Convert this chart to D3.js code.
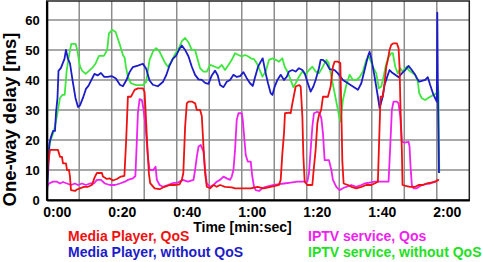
<!DOCTYPE html>
<html><head><meta charset="utf-8">
<script src="https://cdn.jsdelivr.net/npm/d3@7/dist/d3.min.js"></script>
<style>html,body{margin:0;padding:0;background:#fff;} svg{display:block;}</style>
</head><body>
<svg id="c" width="483" height="262"></svg>
<script>
const xTickValues = [0, 20, 40, 60, 80, 100, 120];
const xTickLabels = ["0:00", "0:20", "0:40", "1:00", "1:20", "1:40", "2:00"];
const yTickValues = [0, 10, 20, 30, 40, 50, 60];
const seriesNames = ["Media Player, QoS", "Media Player, without QoS", "IPTV service, Qos", "IPTV service, without QoS"];

// [time (s), delay (ms)]
const mediaPlayerQoS = [[0.09,7],[0.4,12],[1.01,16.7],[3.47,16.7],[4.09,14.4],[4.7,14.4],[5.01,12.2],[5.93,12.2],[6.24,10],[6.85,10],[7.16,7.8],[7.47,3.3],[8.69,3],[9.31,3.5],[10.23,3.9],[11.46,4.4],[12.69,4.4],[13.92,5],[14.84,7.8],[15.45,9],[16.99,9],[17.3,7.8],[18.53,7],[19.45,7.2],[20.37,6.5],[21.6,7],[22.83,7.8],[23.9,8],[24.45,20],[24.98,34.4],[25.9,34.4],[26.51,35.6],[27.04,36.7],[28.05,37.2],[29.59,37.2],[30.11,36],[30.41,30],[30.91,18.9],[31.43,8.9],[31.83,5.6],[33.18,3.9],[34.72,3.6],[36.25,4.4],[37.88,5],[39.32,5],[40.86,5.2],[41.57,6.7],[42.03,9],[42.58,24.4],[43.1,32.2],[43.63,32.8],[44.64,32.8],[45.65,32.2],[46.18,30],[47.19,30],[47.71,28],[48.23,17.8],[48.73,8.9],[49.25,4.4],[50.26,3.9],[51.31,5],[52.32,4.4],[53.33,5],[54.87,4.4],[56.93,4.2],[57.94,3.9],[59.48,3.9],[61.54,3.9],[62.77,3.9],[64.82,4.4],[66.76,3.9],[68.91,4.4],[69.92,4.6],[71.46,5],[71.98,6.7],[72.5,15.6],[73.0,22.2],[73.3,28.9],[74.53,29.1],[75.05,28.9],[75.58,32.2],[76.59,37.8],[77.6,38.3],[78.13,37.8],[78.65,27.8],[78.96,14.4],[79.36,6.1],[80.18,5],[81.72,5],[82.03,8.9],[82.73,16.7],[83.26,25.6],[83.75,28.3],[84.43,30],[84.98,34.4],[86.51,34.4],[87.34,37.8],[88.05,44.4],[88.57,46.1],[89.59,46.1],[90.32,45.6],[90.63,30],[90.94,13],[91.34,5.5],[92.66,5],[93.71,4.4],[95.24,3.9],[96.78,4.4],[98.31,5],[99.85,5],[100.86,5.5],[101.88,6.1],[102.18,16.7],[102.7,34.4],[103.41,34.4],[103.93,38.9],[104.46,44.4],[104.95,46.7],[105.47,50],[105.99,51.7],[106.7,52.2],[107.71,52.2],[108.24,50.6],[108.54,44.4],[108.85,30],[109.25,16.7],[109.46,5],[110.38,4.7],[111.83,4.4],[113.36,4.4],[114.38,5],[115.7,5],[116.93,5.5],[118.28,5.8],[119.51,6.1],[120.31,6.7],[120.68,6.5]];

const mediaPlayerNoQoS = [[0.09,2],[0.55,12],[0.86,19],[1.32,21],[1.94,23],[2.55,23],[2.86,29],[3.32,34],[3.63,43],[4.39,44],[4.92,45.5],[5.47,47],[5.93,50],[6.54,47],[7.16,45.5],[7.93,40],[8.85,34],[9.62,31],[10.23,31.5],[11.15,34],[12.07,37],[12.84,38],[13.76,40],[14.69,42],[15.67,41.5],[16.68,42.3],[17.7,41],[18.74,41],[19.97,41.3],[21.29,40.5],[22.52,38.4],[23.44,37.9],[24.45,39.8],[25.5,42.6],[26.51,44.3],[28.05,44.8],[29.59,45.4],[30.6,43.7],[31.64,39.8],[32.66,38.4],[34.19,37.9],[35.73,39.3],[36.74,41.5],[37.79,44.8],[38.8,47],[39.82,48.1],[40.86,50.4],[41.57,51.5],[42.58,50],[43.63,47.8],[44.64,44.4],[45.65,41.7],[46.7,40.2],[47.71,40],[48.73,39],[49.77,38.7],[50.78,41.5],[51.8,43.1],[52.63,41.5],[53.33,38.3],[54.38,37.6],[55.39,39.4],[56.41,40],[57.45,41.7],[58.46,41],[59.48,41.3],[60.52,42.6],[61.54,40.6],[62.55,38.9],[63.38,38],[63.99,40.5],[65.01,44.4],[65.84,46.1],[66.45,47.2],[67.37,42.2],[68.08,38.9],[68.91,35.6],[69.43,35],[70.14,37.8],[70.97,40],[71.98,41.7],[73.0,40],[73.83,41],[74.53,42.8],[75.58,43.3],[76.59,42.8],[77.6,43.9],[78.65,43.3],[79.36,42.2],[80.18,39.4],[81.2,36.1],[82.03,37.8],[82.73,40],[83.75,43.9],[84.27,46.7],[84.98,46.7],[86.02,45.6],[87.04,43.6],[88.57,43.3],[89.59,42.2],[91.12,40],[92.66,38.9],[94.2,37.8],[95.73,36.7],[96.78,38.9],[97.79,43.3],[98.8,47.8],[99.33,49.4],[99.85,47.2],[100.86,41.1],[101.88,34.4],[102.4,30.6],[103.23,33.9],[103.93,38.3],[104.95,41.7],[105.47,43.3],[106.18,42.5],[107.22,41.7],[108.24,40.9],[109.25,42.2],[110.29,43.3],[111.31,44.7],[112.32,43.3],[113.36,41.7],[113.92,40.5],[114.59,39.4],[115.39,39.7],[116.44,40],[117.24,40.9],[117.97,38.3],[118.99,35],[119.51,33.9],[120.0,32.8],[120.15,62.4],[120.37,33],[120.68,9]];

const iptvQoS = [[0.09,4.4],[0.71,5.5],[1.94,6.1],[3.16,6.1],[4.09,5.5],[5.01,6],[6.24,5.5],[7.47,5],[8.69,5.5],[9.62,5],[10.85,5.5],[12.07,5],[13.3,5.5],[14.53,5.5],[15.45,6.7],[16.68,6.7],[17.91,5.5],[19.45,5],[20.98,5],[22.52,5.5],[24.06,6.1],[24.98,6.7],[26.51,7.2],[27.28,8],[27.74,20],[28.05,28.9],[28.57,33.6],[29.28,33.3],[29.8,30],[30.41,24.4],[31.12,14.4],[31.64,10],[32.81,10],[33.49,11.1],[33.89,6.7],[34.72,5],[35.73,4.4],[37.27,5],[38.8,5.6],[40.34,5.8],[41.87,6.7],[43.41,6.1],[45.16,6.7],[45.65,10],[46.18,14.4],[46.7,17.8],[47.4,18.3],[48.23,16.1],[48.73,10],[49.25,5.5],[50.26,4.4],[51.31,5],[52.32,6.1],[53.33,6.7],[54.38,7.8],[55.39,7.2],[56.41,6.7],[56.93,7.8],[57.45,10],[57.94,16.7],[58.46,26.7],[58.99,28.9],[60.0,28.9],[60.31,26.7],[60.83,20],[61.23,15],[61.85,12.8],[62.77,12.8],[63.23,8],[63.78,4.4],[64.3,3.3],[65.32,3],[66.36,3.9],[67.37,4.4],[68.6,4.7],[69.92,5],[71.46,5.3],[73.0,5.5],[75.05,5.8],[77.11,6.1],[78.74,6.1],[80.18,6.1],[80.68,8.9],[81.2,16.7],[81.72,24.4],[82.21,28.9],[83.26,29.4],[83.96,28.9],[84.49,27.2],[84.98,22.2],[85.5,13.3],[86.82,13.3],[87.56,10],[88.05,6.7],[89.09,4.4],[90.11,3.3],[91.12,3.9],[92.17,4.4],[93.71,5],[95.24,4.4],[96.78,5],[97.79,5.5],[99.33,5.8],[100.86,6.1],[102.4,6.1],[104.46,6.1],[105.16,6.1],[105.68,17.8],[106.18,30],[106.7,32.8],[107.71,32.8],[108.24,32.2],[108.76,27.8],[109.25,19.4],[110.08,19.1],[111.31,19.4],[111.62,17.8],[111.93,11.1],[112.32,5],[112.84,3.9],[113.86,3.9],[114.9,4.7],[116.44,5.3],[117.97,5.5],[119.51,6.1],[120.31,6.7]];

const iptvNoQoS = [[0.09,10],[0.25,15.5],[1.23,20],[2.24,23],[3.32,29],[4.09,34],[4.79,35],[5.53,35],[6.14,43],[6.85,48],[7.56,52],[8.91,52],[9.4,50],[10.23,44.5],[10.94,43],[11.98,42],[13.0,43],[14.01,44],[15.05,45.5],[16.07,48],[17.6,48],[18.62,50],[19.14,55.5],[20.15,56.7],[21.2,56],[22.43,52],[23.44,48.3],[23.96,47.5],[24.36,44.4],[24.98,41],[25.9,38.9],[27.53,38.3],[29.59,38.3],[30.6,39.4],[31.64,46.7],[32.66,49.4],[33.67,50.6],[34.72,49.4],[36.25,46],[37.27,44.4],[38.28,46],[39.32,48.3],[40.86,51],[41.57,52.9],[42.58,54],[43.63,52.5],[44.64,50],[45.65,50],[46.18,47.8],[47.19,43.9],[48.23,42.8],[49.25,42.8],[50.26,45],[51.8,44.4],[52.84,43.9],[53.86,45],[54.87,43.3],[55.91,45],[56.93,46.7],[57.94,48.9],[58.99,48.3],[60.0,47.8],[61.01,48.3],[62.06,47.8],[62.77,47.2],[63.78,46.9],[64.61,45.6],[65.32,43.9],[66.36,41.1],[67.37,42.8],[68.39,46.7],[69.43,47.2],[70.45,46.7],[71.46,46.1],[72.5,47.2],[73.21,44.4],[74.04,42.8],[75.05,40],[75.88,37.6],[76.59,38.9],[77.6,41.1],[78.65,42.8],[79.66,41.7],[80.68,43.3],[81.72,44.4],[82.73,42.8],[83.75,42.2],[84.98,44.5],[86.02,46.7],[86.73,45.6],[87.56,41.1],[88.57,35.6],[89.59,30],[90.32,26.1],[91.12,33.3],[92.17,38.3],[93.18,41.7],[94.2,40],[95.24,40],[96.25,40.9],[97.27,42.8],[98.31,46.7],[99.11,47.8],[100.34,44.4],[101.38,42.2],[102.18,37.2],[102.92,37.8],[103.63,41.1],[104.24,44.4],[104.95,47.2],[105.99,48.9],[106.48,48.9],[107.22,44.4],[108.02,42.2],[108.76,43.9],[109.46,42.8],[110.29,43.9],[110.78,44.4],[111.31,43.3],[112.32,42.5],[113.36,41.7],[114.16,39.4],[114.59,35.6],[115.39,33.9],[116.44,33.3],[117.24,33.9],[117.97,34.4],[118.99,35],[120.0,35.6],[120.31,38.3],[120.52,36],[120.77,9]];

const W = 483, H = 262;
const svg = d3.select("#c");
const x = d3.scaleLinear().domain([0, 130]).range([46.7, 469.3]);
const y = d3.scaleLinear().domain([0, 66.3]).range([200, 1]);
const FONT = "'Liberation Sans', Arial, sans-serif";

// grid
const gGrid = svg.append("g");
gGrid.selectAll("line.v").data(d3.range(10, 130, 10)).join("line")
  .attr("x1", d => x(d)).attr("x2", d => x(d))
  .attr("y1", y(66.3)).attr("y2", y(0))
  .attr("stroke", "#8c8c8c").attr("stroke-width", 1.5);
gGrid.selectAll("line.h").data(d3.range(10, 70, 10)).join("line")
  .attr("x1", x(0)).attr("x2", x(130))
  .attr("y1", d => y(d)).attr("y2", d => y(d))
  .attr("stroke", "#8c8c8c").attr("stroke-width", 1.5);

// lines
const line = d3.line().x(d => x(d[0])).y(d => y(d[1]));
const series = [
  {data: iptvNoQoS, color: "#3ee63e"},
  {data: mediaPlayerNoQoS, color: "#1c1cc8"},
  {data: iptvQoS, color: "#ee22ee"},
  {data: mediaPlayerQoS, color: "#ee1111"}
];
svg.append("g").selectAll("path").data(series).join("path")
  .attr("d", d => line(d.data))
  .attr("fill", "none").attr("stroke", d => d.color)
  .attr("stroke-width", 1.8).attr("stroke-linejoin", "round");

// frame
svg.append("rect").attr("x", x(0)).attr("y", y(66.3))
  .attr("width", x(130) - x(0)).attr("height", y(0) - y(66.3))
  .attr("fill", "none").attr("stroke", "#222").attr("stroke-width", 1.5);

// axes
const xAxis = d3.axisBottom(x).tickValues(xTickValues)
  .tickFormat((d, i) => xTickLabels[i]).tickSize(0).tickPadding(7);
const gx = svg.append("g").attr("transform", `translate(0,${y(0)})`).call(xAxis);
gx.select(".domain").attr("stroke", "#000").attr("stroke-width", 2.2);
gx.selectAll("text").attr("font-family", FONT).attr("font-weight", "bold")
  .attr("font-size", 14).attr("fill", "#000").attr("dx", 10);

const yAxis = d3.axisLeft(y).tickValues(yTickValues).tickSize(0).tickPadding(7);
const gy = svg.append("g").attr("transform", `translate(${x(0)},0)`).call(yAxis);
gy.select(".domain").attr("stroke", "#000").attr("stroke-width", 2.2);
gy.selectAll("text").attr("font-family", FONT).attr("font-weight", "bold")
  .attr("font-size", 13).attr("fill", "#000");

// axis titles
svg.append("text").attr("x", 242.5).attr("y", 232).attr("text-anchor", "middle")
  .attr("font-family", FONT).attr("font-weight", "bold").attr("font-size", 14)
  .text("Time [min:sec]");
svg.append("text").attr("transform", "translate(16,119.5) rotate(-90)")
  .attr("text-anchor", "middle")
  .attr("font-family", FONT).attr("font-weight", "bold").attr("font-size", 18.5)
  .text("One-way delay [ms]");

// legend
const legendPos = [[68, 241], [68, 257], [308, 241], [308, 257]];
const legendColors = ["#ee1111", "#1c1cc8", "#ee22ee", "#22e022"];
svg.append("g").selectAll("text").data(seriesNames).join("text")
  .attr("x", (d, i) => legendPos[i][0]).attr("y", (d, i) => legendPos[i][1])
  .attr("fill", (d, i) => legendColors[i])
  .attr("font-family", FONT).attr("font-weight", "bold").attr("font-size", 14)
  .text(d => d);
</script>
</body></html>
